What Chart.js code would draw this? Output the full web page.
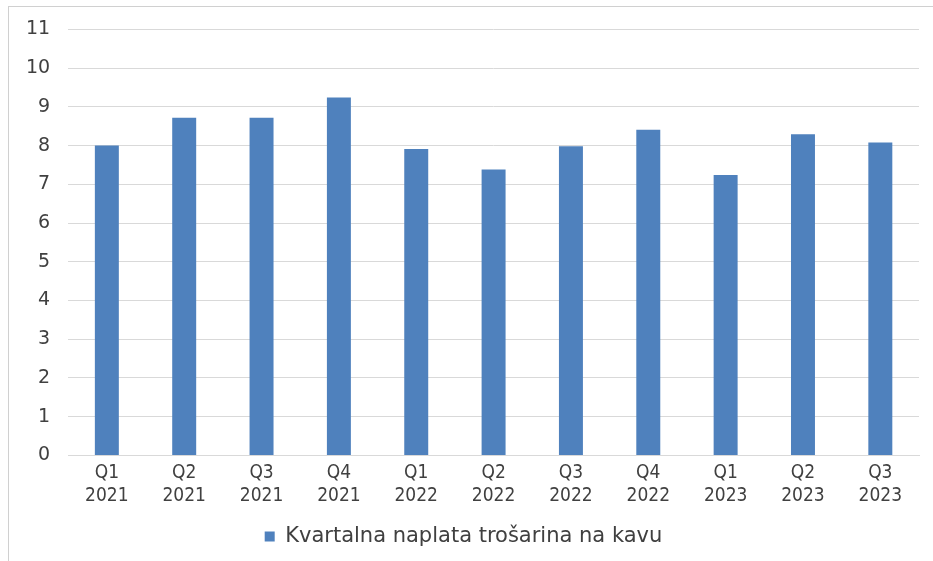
<!DOCTYPE html>
<html lang="hr">
<head>
    <meta charset="UTF-8">
    <title>Kvartalna naplata trošarina na kavu</title>
    <script src="https://cdn.jsdelivr.net/npm/chart.js"></script>
    <style>
        html, body { margin: 0; padding: 0; background: #fff; }
        .frame {
            position: absolute; left: 8px; top: 6px; width: 925px; height: 555px;
            border-left: 1px solid #d0d0d0; border-top: 1px solid #d0d0d0;
        }
        .wrap { position: absolute; left: 0; top: 0; width: 933px; height: 561px; }
    </style>
</head>
<body>
    <div class="frame"></div>
    <div class="wrap"><canvas id="chart"></canvas></div>
    <script>
        const quarters = ['Q1', 'Q2', 'Q3', 'Q4', 'Q1', 'Q2', 'Q3', 'Q4', 'Q1', 'Q2', 'Q3'];
        const years = ['2021', '2021', '2021', '2021', '2022', '2022', '2022', '2022', '2023', '2023', '2023'];
        const collection = [8.0, 8.72, 8.72, 9.24, 7.91, 7.38, 7.98, 8.41, 7.24, 8.29, 8.08];
        const seriesName = 'Kvartalna naplata trošarina na kavu';

        const labels = quarters.map((q, i) => [q, years[i]]);

        new Chart(document.getElementById('chart'), {
            type: 'bar',
            data: {
                labels: labels,
                datasets: [{
                    label: seriesName,
                    data: collection,
                    backgroundColor: '#4f81bd',
                    borderWidth: 0,
                    categoryPercentage: 1,
                    barPercentage: 0.31
                }]
            },
            options: {
                responsive: true,
                maintainAspectRatio: false,
                animation: false,
                layout: { padding: { left: 8, right: 14, top: 13, bottom: 4 } },
                scales: {
                    x: {
                        grid: { display: false, drawTicks: false },
                        border: { color: '#d9d9d9', width: 1 },
                        ticks: {
                            color: '#404040',
                            padding: 6,
                            maxRotation: 0,
                            font: { family: "'DejaVu Sans Condensed', 'DejaVu Sans', sans-serif", size: 19, lineHeight: 1.2 }
                        }
                    },
                    y: {
                        min: 0,
                        max: 11,
                        grid: { color: '#d9d9d9', drawTicks: false, lineWidth: 1 },
                        border: { display: false },
                        ticks: {
                            stepSize: 1,
                            color: '#404040',
                            padding: 18,
                            font: { family: "'DejaVu Sans', sans-serif", size: 19 }
                        }
                    }
                },
                plugins: {
                    legend: {
                        position: 'bottom',
                        labels: {
                            color: '#404040',
                            boxWidth: 10,
                            boxHeight: 10,
                            padding: 13,
                            font: { family: "'DejaVu Sans', sans-serif", size: 21 }
                        }
                    },
                    tooltip: { enabled: false }
                }
            }
        });
    </script>
</body>
</html>
